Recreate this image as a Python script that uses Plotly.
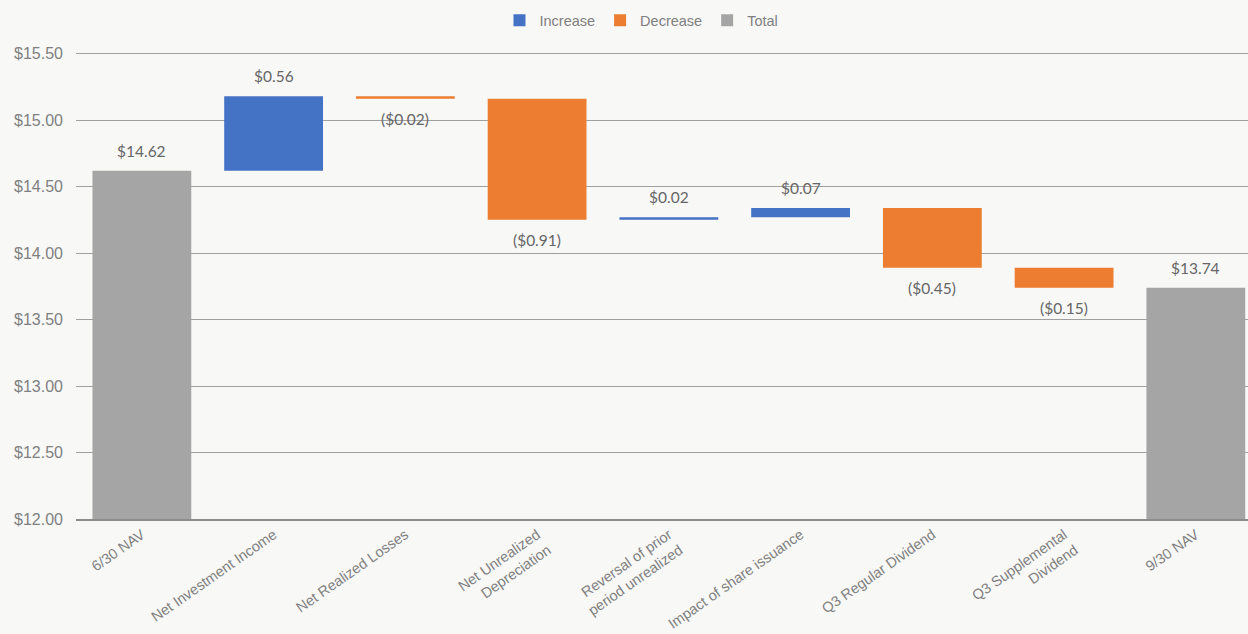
import plotly.graph_objects as go

categories = ["6/30 NAV", "Net Investment Income", "Net Realized Losses",
              "Net Unrealized<br>Depreciation", "Reversal of prior<br>period unrealized",
              "Impact of share issuance", "Q3 Regular Dividend",
              "Q3 Supplemental<br>Dividend", "9/30 NAV"]
start_nav = 14.62
changes = [0.56, -0.02, -0.91, 0.02, 0.07, -0.45, -0.15]
end_nav = 13.74
value_labels = ["$14.62", "$0.56", "($0.02)", "($0.91)", "$0.02", "$0.07",
                "($0.45)", "($0.15)", "$13.74"]
y_ticks = [12.0, 12.5, 13.0, 13.5, 14.0, 14.5, 15.0, 15.5]

BLUE = "#4472C4"
ORANGE = "#ED7D31"
GRAY = "#A5A5A5"
LABEL_FONT = dict(family="Lato, Open Sans, sans-serif", size=15.5, color="#666666")
XAXIS_FONT = dict(family="Liberation Sans, Arial, sans-serif", size=14.5, color="#808080")
YAXIS_FONT = dict(family="Liberation Sans, Arial, sans-serif", size=16, color="#808080")

# build positions from data
inc_x, inc_y, inc_base = [], [], []
dec_x, dec_y, dec_base = [], [], []
running = start_nav
ends = [start_nav]
for cat, ch in zip(categories[1:-1], changes):
    if ch >= 0:
        inc_x.append(cat); inc_y.append(ch); inc_base.append(running)
    else:
        dec_x.append(cat); dec_y.append(ch); dec_base.append(running)
    running = round(running + ch, 4)
    ends.append(running)
ends.append(end_nav)

fig = go.Figure()
W = 0.75
fig.add_trace(go.Bar(name="Increase", x=inc_x, y=inc_y, base=inc_base,
                     marker=dict(color=BLUE, line=dict(width=0)), width=W))
fig.add_trace(go.Bar(name="Decrease", x=dec_x, y=dec_y, base=dec_base,
                     marker=dict(color=ORANGE, line=dict(width=0)), width=W))
fig.add_trace(go.Bar(name="Total", x=[categories[0], categories[-1]],
                     y=[start_nav, end_nav],
                     marker=dict(color=GRAY, line=dict(width=0)), width=W))

# value labels
for i, (cat, lab) in enumerate(zip(categories, value_labels)):
    if i == 0 or i == len(categories) - 1:
        up = True
    else:
        up = changes[i - 1] >= 0
    fig.add_annotation(x=cat, y=ends[i], text=lab, showarrow=False,
                       yanchor="bottom" if up else "top",
                       yshift=9 if up else -9, font=LABEL_FONT)

fig.update_layout(
    width=1248, height=634,
    paper_bgcolor="#f8f8f7", plot_bgcolor="#f8f8f7",
    barmode="overlay",
    margin=dict(l=76, r=0, t=51, b=115),
    showlegend=True,
    legend=dict(orientation="h", xref="container", yref="container",
                x=0.514, xanchor="center", y=0.968, yanchor="middle",
                font=dict(family="Liberation Sans, Arial, sans-serif", size=14.5, color="#7f7f7f"),
                itemwidth=30, traceorder="normal", bgcolor="rgba(0,0,0,0)",
                tracegroupgap=0),
    xaxis=dict(range=[-0.5, 8.396], tickangle=-35, tickfont=XAXIS_FONT,
               categoryorder="array", categoryarray=categories,
               showgrid=False, showline=True, linecolor="#8c8c8c", linewidth=1.5,
               ticks=""),
    yaxis=dict(range=[12, 15.52], tickvals=y_ticks,
               ticktext=["$%.2f" % v for v in y_ticks], tickfont=YAXIS_FONT,
               showgrid=True, gridcolor="#a0a0a0", gridwidth=1,
               zeroline=False, showline=False, ticklabelstandoff=12),
)

fig.write_html("out.html")
